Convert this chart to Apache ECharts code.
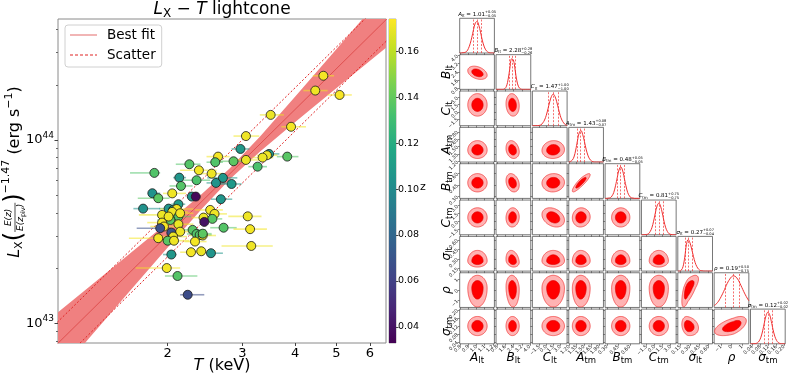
<!DOCTYPE html>
<html>
<head>
<meta charset="utf-8">
<script src="https://cdn.jsdelivr.net/npm/echarts@6/dist/echarts.min.js"></script>
<style>
  html, body { margin: 0; padding: 0; background: #fff; }
  #chart { width: 789px; height: 376px; }
</style>
</head>
<body>
<div id="chart"></div>
<script>
const FONT = '"DejaVu Sans", sans-serif';

// ---- Lx-T sample (T in keV, Lx in 1e43 erg/s, redshift) ----
const T_KEV = [4.66,4.46,5.09,3.50,3.91,3.06,2.97,2.63,3.06,3.47,
  3.43,3.35,3.83,2.86,2.59,2.25,3.26,1.86,2.37,2.54,
  2.13,2.70,2.34,2.60,2.83,2.15,1.84,2.05,1.90,2.28,
  2.33,2.67,2.12,1.75,2.01,2.06,2.10,2.05,1.94,2.52,
  2.58,2.43,2.55,2.12,2.03,1.94,2.44,3.09,2.12,1.96,
  1.92,2.14,2.04,2.29,2.71,3.13,2.34,2.38,2.42,2.42,
  1.90,2.06,2.00,2.07,2.32,3.15,2.27,2.40,2.53,2.04,
  1.99,2.11,2.23,2.14,2.01];
const T_ERR_LO = [.26,.28,.32,.20,.20,.20,.14,.16,.20,.17,
  .18,.18,.21,.20,.12,.16,.16,.23,.23,.16,
  .07,.22,.20,.13,.19,.13,.04,.10,.20,.06,
  .03,.14,.08,.09,.10,.10,.18,.15,.23,.20,
  .14,.15,.12,.12,.14,.15,.05,.31,.16,.14,
  .23,.12,.05,.14,.19,.27,.12,.12,.16,.10,
  .28,.14,.10,.15,.13,.47,.13,.13,.06,.09,
  .31,.14,.09,.14,.12];
const T_ERR_HI = [.28,.31,.35,.26,.33,.23,.15,.17,.23,.20,
  .20,.20,.24,.21,.11,.14,.17,.06,.24,.16,
  .08,.22,.18,.15,.16,.14,.08,.16,.12,.08,
  .03,.17,.08,.17,.10,.12,.20,.18,.10,.18,
  .18,.20,.14,.15,.12,.13,.05,.24,.18,.16,
  .11,.16,.06,.17,.20,.30,.14,.16,.18,.12,
  .20,.16,.12,.18,.15,.39,.15,.20,.17,.06,
  .15,.24,.21,.16,.14];
const LX_1E43 = [22.4,18.6,17.6,13.7,11.8,10.5,8.93,8.11,7.78,8.39,
  8.25,8.01,8.11,7.65,7.56,7.37,7.15,6.61,6.83,6.55,
  6.23,6.21,6.03,5.83,5.75,5.61,5.12,5.11,4.81,4.91,
  4.91,4.75,4.46,4.22,4.22,4.15,4.20,4.05,3.90,4.15,
  3.95,3.77,3.71,3.82,3.66,3.54,3.57,3.83,3.47,3.37,
  3.30,3.16,3.12,3.23,3.32,3.26,3.07,3.03,3.01,3.08,
  2.91,2.97,2.82,2.82,2.79,2.64,2.44,2.47,2.41,2.37,
  2.00,1.81,1.43,3.98,3.82];
const Z_RED = [.172,.171,.173,.170,.172,.171,.108,.172,.170,.106,
  .171,.170,.137,.138,.135,.136,.133,.135,.172,.171,
  .106,.107,.134,.105,.108,.136,.104,.171,.138,.105,
  .036,.106,.110,.104,.106,.109,.172,.171,.170,.172,
  .171,.170,.137,.136,.138,.172,.040,.171,.170,.172,
  .068,.171,.070,.137,.136,.172,.135,.136,.171,.138,
  .172,.170,.137,.171,.172,.171,.172,.170,.106,.107,
  .172,.136,.066,.172,.171];

// best fit relation and its uncertainty band
const FIT_T_PIV = 3.0, FIT_L_PIV_1E43 = 7.63, FIT_SLOPE = 2.28, FIT_SCATTER_DEX = 0.118;
const BAND_T = [1.1, 1.3, 1.6, 2.0, 2.4, 2.8, 3.3, 4.0, 5.0, 6.6];
const BAND_HALF_DEX = [0.170, 0.141, 0.105, 0.068, 0.041, 0.030, 0.041, 0.069, 0.106, 0.154];

// axes
const X_RANGE_T = [1.102, 6.55];
const Y_RANGE_1E43 = [0.78, 45.7];
const X_TICKS = [2, 3, 4, 5, 6];
const Y_MAJOR_1E43 = [1, 10];
const Y_MINOR_1E43 = [0.8, 0.9, 2, 3, 4, 5, 6, 7, 8, 9, 20, 30, 40];
const Z_RANGE = [0.033, 0.174];
const CB_TICKS = [0.04, 0.06, 0.08, 0.10, 0.12, 0.14, 0.16];
const VIRIDIS = ['#440154','#482475','#414487','#355f8d','#2a788e','#21918c','#22a884','#44bf70','#7ad151','#bddf26','#fde725'];

// ---- corner plot posteriors ----
const P_SYMBOL = ['A','B','C','A','B','C','σ','ρ','σ'];
const P_SUB = ['lt','lt','lt','tm','tm','tm','lt','','tm'];
const P_MEDIAN = [1.01, 2.28, 1.47, 1.43, 0.48, 0.81, 0.27, 0.19, 0.12];
const P_ERR_LO = [0.05, 0.26, 1.00, 0.07, 0.05, 0.75, 0.04, 0.75, 0.02];
const P_ERR_HI = [0.05, 0.28, 1.00, 0.08, 0.05, 0.75, 0.07, 0.50, 0.02];
const P_MIN = [0.79, 0.68, -2.97, 1.19, 0.275, -2.44, 0.11, -1.65, 0.031];
const P_MAX = [1.22, 4.08, 4.43, 1.89, 0.73, 4.06, 0.66, 1.63, 0.205];
const P_TICKS = [[0.8,0.9,1.0,1.1,1.2],[0.8,1.6,2.4,3.2,4.0],[-1.5,0,1.5,3.0],[1.20,1.35,1.50,1.65,1.80],
  [0.30,0.45,0.60],[-1.5,0,1.5,3.0],[0.15,0.30,0.45,0.60],[-1,0,1],[0.04,0.08,0.12,0.16,0.20]];
const P_DECIMALS = [1,1,1,2,2,1,2,0,2];
// 1D marginal heights, sampled evenly across [P_MIN, P_MAX]
const P_DENSITY = [
  [0,0,.01,.02,.05,.14,.29,.5,.75,.95,1,.88,.66,.41,.22,.1,.04,.01,0,0,0],
  [0,0,0,0,0,.02,.1,.33,.68,.97,.93,.61,.27,.08,.02,0,0,0,0,0,0],
  [0,0,0,0,.01,.03,.09,.18,.33,.54,.76,.93,1,.93,.76,.54,.33,.18,.09,.03,.01],
  [0,.02,.06,.16,.38,.67,.92,1,.88,.66,.41,.22,.1,.04,.01,0,0,0,0,0,0],
  [0,0,.01,.02,.08,.19,.4,.66,.9,1,.9,.66,.4,.19,.08,.02,.01,0,0,0,0],
  [0,0,0,.01,.03,.1,.22,.43,.69,.91,1,.91,.69,.43,.22,.1,.03,.01,0,0,0],
  [0,0,.03,.14,.44,.85,1,.9,.7,.47,.27,.14,.06,.02,.01,0,0,0,0,0,0],
  [.06,.1,.16,.24,.34,.45,.57,.7,.81,.9,.97,1,.99,.94,.86,.75,.63,.51,.4,.3,.21],
  [0,0,0,.01,.03,.09,.21,.41,.67,.9,1,.93,.71,.45,.24,.11,.04,.01,0,0,0],
];
// pairwise correlation, row param vs column param (lower triangle)
const P_CORR = [
  [],
  [-0.35],
  [0.0, -0.1],
  [0.0, -0.2, 0.05],
  [0.0, -0.25, 0.05, 0.88],
  [0.0, 0.05, -0.3, 0.05, 0.0],
  [0.0, -0.2, 0.0, 0.0, 0.0, 0.0],
  [0.0, -0.1, 0.0, 0.0, 0.0, 0.0, 0.7],
  [0.0, 0.0, 0.0, 0.0, 0.0, 0.0, -0.2, 0.55],
];
const K_OUTER = 2.4, K_INNER = 1.4;

// ---- layout ----
const MAIN = { left: 58, top: 19, width: 328, height: 324 };
const CBAR = { left: 389, top: 19, width: 7, height: 324 };
const CORNER = { left: 459.7, top: 18.3, step: 36.35, size: 34.7 };

const lg = v => Math.log10(v);
const lgL = v => 43 + Math.log10(v);
const fitLg = t => lgL(FIT_L_PIV_1E43) + FIT_SLOPE * (lg(t) - lg(FIT_T_PIV));

// text helpers
const mctx = document.createElement('canvas').getContext('2d');
function partFont(p) { return (p.it ? 'italic ' : '') + p.s + 'px ' + FONT; }
function partWidth(p) { mctx.font = partFont(p); return mctx.measureText(p.t).width; }
function rowWidth(row) { return row.reduce((a, p) => a + partWidth(p), 0); }
function textEl(p, x, y, color) {
  return { type: 'text', silent: true, style: { text: p.t, x, y, font: partFont(p), fill: color,
    align: 'left', verticalAlign: 'middle', textAlign: 'left', textVerticalAlign: 'middle' } };
}
function pushRow(kids, row, x0, y0, color) {
  let x = x0;
  row.forEach(p => { kids.push(textEl(p, x, y0 + (p.dy || 0), color)); x += partWidth(p); });
}
function mathGroup(parts, x, y, rotation, color = '#000') {
  const kids = [];
  let cx = 0;
  parts.forEach(p => {
    if (p.frac) {
      const wn = rowWidth(p.frac[0]), wd = rowWidth(p.frac[1]), w = Math.max(wn, wd) + 2;
      pushRow(kids, p.frac[0], cx + (w - wn) / 2, -p.off, color);
      pushRow(kids, p.frac[1], cx + (w - wd) / 2, p.off, color);
      kids.push({ type: 'line', silent: true, shape: { x1: cx, y1: 0, x2: cx + w, y2: 0 }, style: { stroke: color, lineWidth: 0.7 } });
      cx += w;
    } else if (p.stack) {
      const a = { t: p.stack[0], s: p.s }, b = { t: p.stack[1], s: p.s };
      kids.push(textEl(a, cx, -p.off, color));
      kids.push(textEl(b, cx, p.off, color));
      cx += Math.max(partWidth(a), partWidth(b));
    } else {
      kids.push(textEl(p, cx, p.dy || 0, color));
      cx += partWidth(p);
    }
  });
  return { type: 'group', x, y, rotation: rotation || 0, silent: true, children: [{ type: 'group', x: -cx / 2, children: kids }] };
}

const grids = [], xAxes = [], yAxes = [], series = [], graphics = [];
const noLine = { show: false, onZero: false };

// ---- main Lx-T panel ----
grids.push({ ...MAIN, show: true, borderColor: '#8a8a8a', borderWidth: 1 });
xAxes.push({
  gridIndex: 0, type: 'value', min: lg(X_RANGE_T[0]), max: lg(X_RANGE_T[1]),
  axisLine: noLine, splitLine: { show: false },
  axisTick: { customValues: X_TICKS.map(lg), length: 3, lineStyle: { color: '#444' } },
  axisLabel: { customValues: X_TICKS.map(lg), formatter: v => String(Math.round(Math.pow(10, v))),
    fontSize: 13, fontFamily: FONT, color: '#000', margin: 4 },
});
yAxes.push({
  gridIndex: 0, type: 'value', min: lgL(Y_RANGE_1E43[0]), max: lgL(Y_RANGE_1E43[1]),
  axisLine: noLine, splitLine: { show: false },
  axisTick: { customValues: Y_MAJOR_1E43.map(lgL), length: 3.5, lineStyle: { color: '#444' } },
  axisLabel: { customValues: Y_MAJOR_1E43.map(lgL), formatter: v => `{b|10}{s|${Math.round(v)}}`, margin: 4,
    rich: { b: { fontSize: 13, fontFamily: FONT, color: '#000' }, s: { fontSize: 9, fontFamily: FONT, color: '#000', padding: [0, 0, 9, 0] } } },
});
yAxes.push({
  gridIndex: 0, type: 'value', position: 'left', min: lgL(Y_RANGE_1E43[0]), max: lgL(Y_RANGE_1E43[1]),
  axisLine: noLine, splitLine: { show: false }, axisLabel: { show: false },
  axisTick: { customValues: Y_MINOR_1E43.map(lgL), length: 2, lineStyle: { color: '#666' } },
});

series.push({
  type: 'custom', name: 'band', xAxisIndex: 0, yAxisIndex: 0, clip: true, z: 1, silent: true,
  data: [[lg(BAND_T[0]), fitLg(BAND_T[0])]],
  renderItem: (params, api) => {
    const up = BAND_T.map((t, i) => api.coord([lg(t), fitLg(t) + BAND_HALF_DEX[i]]));
    const lo = BAND_T.map((t, i) => api.coord([lg(t), fitLg(t) - BAND_HALF_DEX[i]])).reverse();
    return { type: 'polygon', shape: { points: up.concat(lo) }, style: { fill: '#f08080', stroke: 'none' } };
  },
});
const fitEnds = [1.0, 7.0];
series.push({
  type: 'line', name: 'Best fit', xAxisIndex: 0, yAxisIndex: 0, symbol: 'none', showSymbol: false, z: 2, silent: true,
  data: fitEnds.map(t => [lg(t), fitLg(t)]),
  lineStyle: { color: '#dd4a4a', width: 0.9 }, itemStyle: { color: '#e26a6a' },
});
[1, -1].forEach(sign => {
  series.push({
    type: 'line', name: 'Scatter', xAxisIndex: 0, yAxisIndex: 0, symbol: 'none', showSymbol: false, z: 2, silent: true,
    data: fitEnds.map(t => [lg(t), fitLg(t) + sign * FIT_SCATTER_DEX]),
    lineStyle: { color: '#e02424', width: 1, type: [2, 2] }, itemStyle: { color: '#e02424' },
  });
});
const errIdx = series.length;
series.push({
  type: 'custom', name: 'err', xAxisIndex: 0, yAxisIndex: 0, z: 3, clip: true, silent: true,
  data: T_KEV.map((t, i) => [lg(t), lgL(LX_1E43[i]), Z_RED[i], lg(t - T_ERR_LO[i]), lg(t + T_ERR_HI[i])]),
  renderItem: (params, api) => {
    const a = api.coord([api.value(3), api.value(1)]), b = api.coord([api.value(4), api.value(1)]);
    return { type: 'line', shape: { x1: a[0], y1: a[1], x2: b[0], y2: b[1] },
      style: { stroke: api.visual('color'), lineWidth: 1.6, opacity: 0.55 } };
  },
});
const scIdx = series.length;
series.push({
  type: 'scatter', name: 'clusters', xAxisIndex: 0, yAxisIndex: 0, z: 4, symbolSize: 9,
  data: T_KEV.map((t, i) => [lg(t), lgL(LX_1E43[i]), Z_RED[i]]),
  itemStyle: { borderColor: '#1a1a1a', borderWidth: 0.8, opacity: 1 },
});

// ---- colorbar ----
grids.push({ ...CBAR, show: true, borderColor: '#9a9a9a', borderWidth: 0.8 });
xAxes.push({ gridIndex: 1, type: 'value', min: 0, max: 1, show: false });
yAxes.push({
  gridIndex: 1, type: 'value', position: 'right', min: Z_RANGE[0], max: Z_RANGE[1],
  axisLine: noLine, splitLine: { show: false },
  axisTick: { customValues: CB_TICKS, length: 2.5, lineStyle: { color: '#444' } },
  axisLabel: { customValues: CB_TICKS, formatter: v => v.toFixed(2), fontSize: 9.5, fontFamily: FONT, color: '#000', margin: 2 },
});
series.push({
  type: 'custom', name: 'cbar', xAxisIndex: 1, yAxisIndex: 2, silent: true,
  data: [[0, Z_RANGE[0]]],
  renderItem: (params, api) => {
    const a = api.coord([0, Z_RANGE[0]]), b = api.coord([1, Z_RANGE[1]]);
    return { type: 'rect', shape: { x: a[0], y: b[1], width: b[0] - a[0], height: a[1] - b[1] },
      style: { fill: new echarts.graphic.LinearGradient(0, 1, 0, 0, VIRIDIS.map((c, i) => ({ offset: i / (VIRIDIS.length - 1), color: c }))) } };
  },
});

// ---- corner plot ----
const fmtTick = (v, p) => v.toFixed(P_DECIMALS[p]).replace('-', '\u2212');
for (let r = 0; r < 9; r++) {
  for (let c = 0; c <= r; c++) {
    const gi = grids.length;
    const left = CORNER.left + c * CORNER.step, top = CORNER.top + r * CORNER.step;
    grids.push({ left, top, width: CORNER.size, height: CORNER.size, show: true, borderColor: '#555', borderWidth: 0.8 });
    xAxes.push({
      gridIndex: gi, type: 'value', min: P_MIN[c], max: P_MAX[c],
      axisLine: noLine, splitLine: { show: false },
      axisTick: { customValues: P_TICKS[c], length: 2, lineStyle: { color: '#555', width: 0.7 } },
      axisLabel: { show: r === 8, customValues: P_TICKS[c], formatter: v => fmtTick(v, c), rotate: 45,
        fontSize: 5, fontFamily: FONT, color: '#222', margin: 2 },
    });
    const xi = xAxes.length - 1;
    if (r === c) {
      yAxes.push({ gridIndex: gi, type: 'value', min: 0, max: 1.1, show: false, axisLine: noLine });
      const yi = yAxes.length - 1;
      const dens = P_DENSITY[c], n = dens.length;
      series.push({
        type: 'line', xAxisIndex: xi, yAxisIndex: yi, symbol: 'none', smooth: 0.4, silent: true,
        data: dens.map((h, i) => [P_MIN[c] + i * (P_MAX[c] - P_MIN[c]) / (n - 1), h]),
        lineStyle: { color: '#f03030', width: 1 },
        markLine: {
          silent: true, symbol: ['none', 'none'], label: { show: false },
          lineStyle: { color: '#f03030', type: [2, 1.5], width: 0.7 },
          data: [{ xAxis: P_MEDIAN[c] - P_ERR_LO[c] }, { xAxis: P_MEDIAN[c] }, { xAxis: P_MEDIAN[c] + P_ERR_HI[c] }],
        },
      });
      const fmt2 = v => v.toFixed(2);
      graphics.push(mathGroup([
        { t: P_SYMBOL[c], s: 5.5, it: true }, { t: P_SUB[c], s: 4, dy: 1.5 },
        { t: ' = ' + fmt2(P_MEDIAN[c]), s: 5.5 },
        { stack: ['+' + fmt2(P_ERR_HI[c]), '\u2212' + fmt2(P_ERR_LO[c])], s: 3.6, off: 2 },
      ], left + CORNER.size / 2, top - 4));
    } else {
      yAxes.push({
        gridIndex: gi, type: 'value', min: P_MIN[r], max: P_MAX[r],
        axisLine: noLine, splitLine: { show: false },
        axisTick: { customValues: P_TICKS[r], length: 2, lineStyle: { color: '#555', width: 0.7 } },
        axisLabel: { show: c === 0, customValues: P_TICKS[r], formatter: v => fmtTick(v, r), rotate: 45,
          fontSize: 5, fontFamily: FONT, color: '#222', margin: 2 },
      });
      const yi = yAxes.length - 1;
      const rho = P_CORR[r][c];
      series.push({
        type: 'custom', xAxisIndex: xi, yAxisIndex: yi, clip: true, silent: true,
        data: [[P_MEDIAN[c], P_MEDIAN[r]]],
        renderItem: (params, api) => {
          const mx = api.value(0), my = api.value(1);
          const ring = k => {
            const pts = [];
            for (let i = 0; i < 72; i++) {
              const th = 2 * Math.PI * i / 72;
              const u = Math.cos(th), v = rho * Math.cos(th) + Math.sqrt(1 - rho * rho) * Math.sin(th);
              const x = mx + k * u * (u < 0 ? P_ERR_LO[c] : P_ERR_HI[c]);
              const y = my + k * v * (v < 0 ? P_ERR_LO[r] : P_ERR_HI[r]);
              pts.push(api.coord([x, y]));
            }
            return pts;
          };
          return { type: 'group', children: [
            { type: 'polygon', shape: { points: ring(K_OUTER), smooth: 0.2 }, style: { fill: '#ffb3b3', stroke: '#f03030', lineWidth: 0.7 } },
            { type: 'polygon', shape: { points: ring(K_INNER), smooth: 0.2 }, style: { fill: '#ff0000', stroke: '#e00000', lineWidth: 0.7 } },
          ] };
        },
      });
    }
    if (c === 0 && r > 0) {
      graphics.push(mathGroup([{ t: P_SYMBOL[r], s: 12, it: true }, { t: P_SUB[r], s: 8.5, dy: 3 }],
        447, top + CORNER.size / 2, Math.PI / 2));
    }
    if (r === 8) {
      graphics.push(mathGroup([{ t: P_SYMBOL[c], s: 12, it: true }, { t: P_SUB[c], s: 8.5, dy: 3 }],
        left + CORNER.size / 2, 358, 0));
    }
  }
}

// ---- titles and axis names of the left panel ----
graphics.push(mathGroup([
  { t: 'L', s: 17, it: true }, { t: 'X', s: 12, dy: 4 }, { t: ' \u2212 ', s: 17 }, { t: 'T', s: 17, it: true }, { t: ' lightcone', s: 17 },
], MAIN.left + MAIN.width / 2, 10, 0));
graphics.push(mathGroup([{ t: 'T', s: 16, it: true }, { t: ' (keV)', s: 16 }], MAIN.left + MAIN.width / 2, 366, 0));
graphics.push(mathGroup([
  { t: 'L', s: 16, it: true }, { t: 'X', s: 11, dy: 4 }, { t: '(', s: 24 },
  { frac: [[{ t: 'E(z)', s: 9, it: true }], [{ t: 'E(z', s: 9, it: true }, { t: 'piv', s: 6.5, dy: 2 }, { t: ')', s: 9, it: true }]], off: 6 },
  { t: ')', s: 24 }, { t: '\u22121.47', s: 11, dy: -9 }, { t: ' (erg s', s: 16 }, { t: '\u22121', s: 11, dy: -6 }, { t: ')', s: 16 },
], 15, 172, Math.PI / 2));
graphics.push(mathGroup([{ t: 'z', s: 11 }], 423, 187, 0));

// legend glyphs: a solid stroke and a dashed stroke
const ICON_SOLID = 'path://M0,0H27V1H0Z';
const ICON_DASHED = 'path://M0,0H3V1H0ZM5,0H8V1H5ZM10,0H13V1H10ZM15,0H18V1H15ZM20,0H23V1H20ZM25,0H27V1H25Z';

const chart = echarts.init(document.getElementById('chart'));
chart.setOption({
  animation: false,
  backgroundColor: '#fff',
  grid: grids, xAxis: xAxes, yAxis: yAxes, series,
  legend: {
    data: [{ name: 'Best fit', icon: ICON_SOLID }, { name: 'Scatter', icon: ICON_DASHED }],
    left: 65, top: 25, orient: 'vertical', symbolKeepAspect: true,
    itemWidth: 27, itemHeight: 14, itemGap: 6, padding: [3, 6, 5, 5],
    borderColor: '#d0d0d0', borderWidth: 1, borderRadius: 3, backgroundColor: '#fff',
    textStyle: { fontSize: 13.5, fontFamily: FONT, color: '#000', padding: [0, 0, 0, 5] },
  },
  visualMap: {
    type: 'continuous', show: false, dimension: 2, min: Z_RANGE[0], max: Z_RANGE[1],
    seriesIndex: [errIdx, scIdx], inRange: { color: VIRIDIS },
  },
  graphic: graphics,
});
</script>
</body>
</html>
